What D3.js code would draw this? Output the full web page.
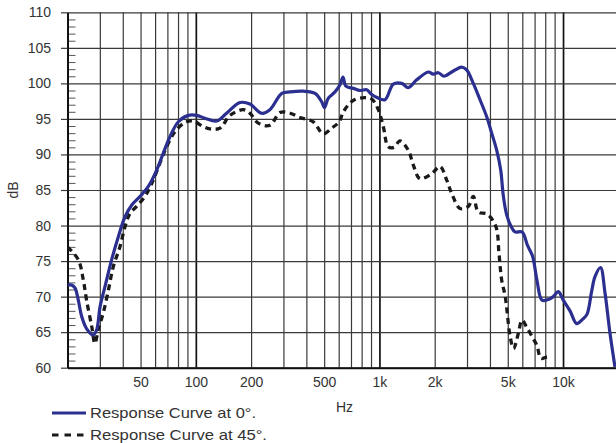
<!DOCTYPE html>
<html>
<head>
<meta charset="utf-8">
<script src="https://cdn.jsdelivr.net/npm/d3@7"></script>
<style>
	body { margin: 0; background: #fff; }
	svg { display: block; font-family: "Liberation Sans", Arial, sans-serif; }
</style>
</head>
<body>
<div id="chart"></div>
<script>
// response at 0 degrees (Hz, dB)
var freq0 = [ 20, 21.2, 22, 22.9, 23.9, 25.4, 27.6, 28.8, 30.1, 32, 34.8, 37.8, 41.1, 44.8, 49.7, 55.1, 61.2, 66.5, 72.3, 80.3, 91, 101,
	112, 130, 147, 174, 197, 228, 253, 294, 326, 385, 446, 485, 502, 526, 573, 610, 633, 657, 721, 784, 853, 900, 970,
	1072, 1190, 1322, 1436, 1596, 1845, 1964, 2093, 2247, 2476, 2806, 2987, 3245, 3530, 3840, 4088, 4352, 4576, 4728, 4933,
	5209, 5477, 5978, 6405, 6820, 7212, 7680, 8310, 8850, 9425, 10030, 10915, 11870, 12770, 13500, 14330, 14930, 15995,
	16930, 18030, 19180 ];
var db0 = [ 71.7, 71.6, 71.2, 69.5, 67.2, 65.5, 64.6, 65.3, 68.6, 71.4, 75.2, 78.4, 81.2, 82.9, 84.1, 85.5, 87.8, 90.2, 92.5, 94.6, 95.5, 95.5,
	95.1, 94.7, 95.8, 97.3, 97.1, 95.8, 96.3, 98.6, 98.8, 98.9, 98.6, 97.4, 96.6, 97.9, 98.8, 99.8, 100.9, 99.6, 99.3, 99.0, 99.1, 98.5, 98.0,
	97.7, 99.9, 100.0, 99.4, 100.5, 101.6, 101.3, 101.5, 101.0, 101.6, 102.3, 101.9, 100.0, 97.7, 95.3, 93.0, 90.6, 87.8, 84.2, 81.5,
	79.9, 79.1, 79.1, 77.2, 75.7, 72.3, 69.5, 69.6, 70.0, 70.7, 69.5, 68.0, 66.2, 66.8, 67.5, 70.8, 72.8, 74.1,
	70.5, 64.8, 60.1 ];

// response at 45 degrees (Hz, dB)
var freq45 = [ 20, 22.9, 24.4, 25.4, 27.1, 28.2, 29.4, 31.3, 33.4, 35.5, 38.6, 41.1, 43.8, 47.6, 52.8, 57.5, 63.8, 69.4, 77, 87.3, 96.5,
	110, 119.5, 135.4, 153.5, 181.4, 197, 219, 253, 287.5, 326, 369, 436, 494, 549, 604, 636, 721, 834, 908, 986,
	1050, 1117, 1200, 1294, 1436, 1530, 1663, 1926, 2138, 2325, 2476, 2748, 3049, 3245, 3456, 3869, 4315, 4478, 4634,
	4830, 4953, 5143, 5375, 5706, 5978, 6343, 6776, 7212, 7585, 8150, 8570 ];
var db45 = [ 77.0, 75.2, 72.3, 69.5, 65.8, 63.4, 65.3, 67.7, 70.9, 74.2, 77.0, 79.8, 81.7, 82.7, 84.1, 85.9, 88.8, 91.1, 93.2, 94.5, 94.7,
	93.9, 93.6, 93.7, 95.5, 96.3, 95.8, 94.4, 94.1, 95.9, 95.8, 95.2, 94.6, 92.9, 93.7, 94.6, 96.0, 97.6, 98.0, 97.8, 96.3,
	93.9, 91.1, 91.0, 91.9, 90.6, 88.5, 86.6, 87.3, 88.3, 86.4, 84.5, 82.4, 82.7, 84.1, 81.9, 81.6, 79.8, 76.1, 72.3,
	70.2, 68.0, 64.5, 62.7, 64.8, 66.7, 65.7, 64.4, 63.1, 61.3, 61.5, 61.5 ];

var xTickValues = [ 50, 100, 200, 500, 1000, 2000, 5000, 10000 ];
var xTickLabels = [ "50", "100", "200", "500", "1k", "2k", "5k", "10k" ];
var yTickValues = [ 60, 65, 70, 75, 80, 85, 90, 95, 100, 105, 110 ];
var legendLabels = [ "Response Curve at 0°.", "Response Curve at 45°." ];

( function () {
	var width = 616, height = 443;
	var plotLeft = 67.5, plotRight = 618.3, plotTop = 12.3, plotBottom = 367.7;
	var blue = "#2b2f8f", dark = "#1a1a1a", textColor = "#333";

	var xScale = d3.scaleLog()
		.domain( [ 20, 20000 ] )
		.range( [ plotLeft, plotRight ] );

	var yScale = d3.scaleLinear()
		.domain( [ 60, 110 ] )
		.range( [ plotBottom, plotTop ] );

	var svg = d3.select( "#chart" ).append( "svg" )
		.attr( "width", width )
		.attr( "height", height );

	svg.append( "defs" ).append( "clipPath" )
		.attr( "id", "plot" )
		.append( "rect" )
		.attr( "x", plotLeft )
		.attr( "y", plotTop - 2 )
		.attr( "width", plotRight - plotLeft )
		.attr( "height", plotBottom - plotTop + 2 );

	// vertical grid
	svg.append( "g" )
		.attr( "class", "grid" )
		.attr( "transform", `translate(0, ${ plotBottom })` )
		.call( d3.axisBottom( xScale )
			.tickValues( xScale.ticks().filter( d => d > 20 ) )
			.tickSize( -( plotBottom - plotTop ) )
			.tickFormat( "" ) )
		.call( g => g.select( ".domain" ).remove() )
		.selectAll( "line" )
		.attr( "stroke", d => [ 100, 1000, 10000 ].includes( d ) ? "#111" : "#3a3a3a" )
		.attr( "stroke-width", d => [ 100, 1000, 10000 ].includes( d ) ? 1.7 : 1.2 );

	// horizontal grid
	svg.append( "g" )
		.attr( "class", "grid" )
		.attr( "transform", `translate(${ plotLeft }, 0)` )
		.call( d3.axisLeft( yScale )
			.tickValues( yTickValues )
			.tickSize( -( width - plotLeft ) )
			.tickFormat( "" ) )
		.call( g => g.select( ".domain" ).remove() )
		.selectAll( "line" )
		.attr( "stroke", "#3a3a3a" )
		.attr( "stroke-width", 1.2 );

	// minor ticks inside the left axis
	svg.append( "g" )
		.attr( "transform", `translate(${ plotLeft }, 0)` )
		.call( d3.axisRight( yScale )
			.tickValues( d3.range( 60, 111 ).filter( d => d % 5 !== 0 ) )
			.tickSize( 8 )
			.tickFormat( "" ) )
		.call( g => g.select( ".domain" ).remove() )
		.selectAll( "line" )
		.attr( "stroke", "#555" )
		.attr( "stroke-width", 1 );

	// y axis
	svg.append( "g" )
		.attr( "transform", `translate(${ plotLeft }, 0)` )
		.call( d3.axisLeft( yScale )
			.tickValues( yTickValues )
			.tickSize( 6.5 )
			.tickSizeOuter( 0 )
			.tickPadding( 10 ) )
		.call( g => g.select( ".domain" ).attr( "stroke", "#111" ).attr( "stroke-width", 2 ) )
		.call( g => g.selectAll( "line" ).attr( "stroke", "#3a3a3a" ).attr( "stroke-width", 1.2 ) )
		.call( g => g.selectAll( "text" )
			.attr( "fill", textColor )
			.style( "font-size", "14px" ) );

	// x axis labels
	svg.append( "g" )
		.attr( "transform", `translate(0, ${ plotBottom })` )
		.call( d3.axisBottom( xScale )
			.tickValues( xTickValues )
			.tickSize( 0 )
			.tickPadding( 9 )
			.tickFormat( ( d, i ) => xTickLabels[ i ] ) )
		.call( g => g.select( ".domain" ).attr( "stroke", "#111" ).attr( "stroke-width", 2 ) )
		.call( g => g.selectAll( "text" )
			.attr( "fill", textColor )
			.style( "font-size", "14px" ) );

	svg.append( "text" )
		.attr( "x", 344.5 )
		.attr( "y", 412 )
		.attr( "text-anchor", "middle" )
		.attr( "fill", textColor )
		.style( "font-size", "14px" )
		.text( "Hz" );

	svg.append( "text" )
		.attr( "transform", "rotate(-90)" )
		.attr( "x", -( plotTop + plotBottom ) / 2 )
		.attr( "y", 18 )
		.attr( "text-anchor", "middle" )
		.attr( "fill", textColor )
		.style( "font-size", "14px" )
		.text( "dB" );

	var line = d3.line()
		.x( d => xScale( d[ 0 ] ) )
		.y( d => yScale( d[ 1 ] ) )
		.curve( d3.curveCatmullRom.alpha( 0.5 ) );

	var curve0 = d3.zip( freq0, db0 );
	var curve45 = d3.zip( freq45, db45 );

	var plot = svg.append( "g" ).attr( "clip-path", "url(#plot)" );

	plot.append( "path" )
		.datum( curve45 )
		.attr( "d", line )
		.attr( "fill", "none" )
		.attr( "stroke", dark )
		.attr( "stroke-width", 3.3 )
		.attr( "stroke-dasharray", "6,4.5" );

	plot.append( "path" )
		.datum( curve0 )
		.attr( "d", line )
		.attr( "fill", "none" )
		.attr( "stroke", blue )
		.attr( "stroke-width", 3.2 );

	// legend
	var legend = svg.selectAll( ".legend" )
		.data( legendLabels ).enter().append( "g" )
		.attr( "class", "legend" )
		.attr( "transform", ( d, i ) => `translate(0, ${ 413 + i * 22 })` );

	legend.append( "line" )
		.attr( "x1", 52 )
		.attr( "x2", 86 )
		.attr( "stroke", ( d, i ) => i === 0 ? blue : dark )
		.attr( "stroke-width", 3 )
		.attr( "stroke-dasharray", ( d, i ) => i === 0 ? null : "6.5,6" );

	legend.append( "text" )
		.attr( "x", 90 )
		.attr( "dy", ".35em" )
		.attr( "fill", textColor )
		.attr( "textLength", ( d, i ) => i === 0 ? 166 : 177 )
		.attr( "lengthAdjust", "spacingAndGlyphs" )
		.style( "font-size", "15px" )
		.text( d => d );
} )();
</script>
</body>
</html>
